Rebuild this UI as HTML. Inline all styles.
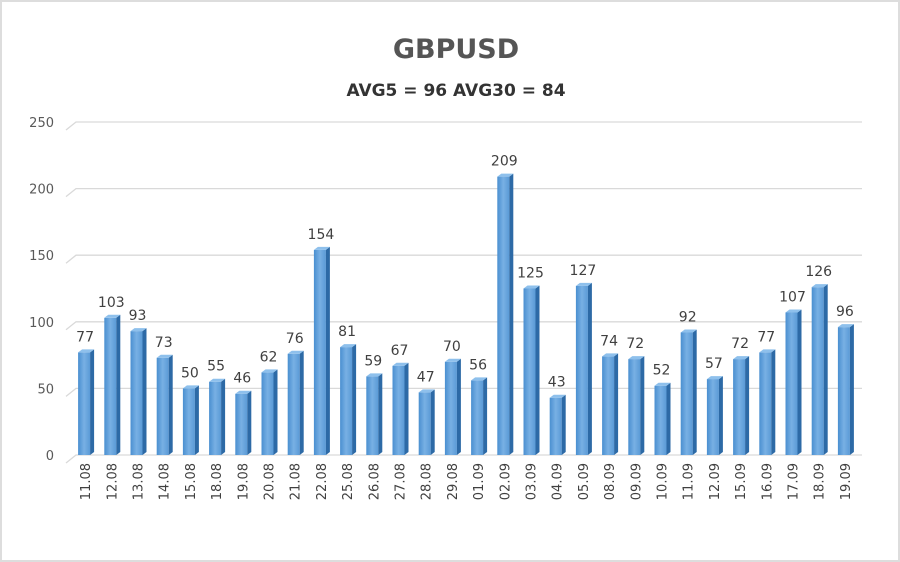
<!DOCTYPE html>
<html><head><meta charset="utf-8"><style>
html,body{margin:0;padding:0;background:#fff}
#wrap{width:896px;height:558px;border:2px solid #ddd;position:relative}
svg{position:absolute;left:-2px;top:-2px}
text{font-family:"DejaVu Sans","Liberation Sans",sans-serif}
</style></head><body>
<div id="wrap">
<svg id="c" width="900" height="562">
<text x="456" y="58" text-anchor="middle" font-size="27" font-weight="bold" fill="#555">GBPUSD</text>
<text x="456" y="96" text-anchor="middle" font-size="17" font-weight="bold" fill="#333">AVG5 = 96 AVG30 = 84</text>
<g id="grid"></g><g id="bars"></g><g id="labels"></g>
</svg></div>
<script>
const categories=["11.08","12.08","13.08","14.08","15.08","18.08","19.08","20.08","21.08","22.08","25.08","26.08","27.08","28.08","29.08","01.09","02.09","03.09","04.09","05.09","08.09","09.09","10.09","11.09","12.09","15.09","16.09","17.09","18.09","19.09"];
const values=[77,103,93,73,50,55,46,62,76,154,81,59,67,47,70,56,209,125,43,127,74,72,52,92,57,72,77,107,126,96];
const ticks=[0,50,100,150,200,250];
const NS="http://www.w3.org/2000/svg";
const y0=455,ymax=250,ypx=333;
const y=v=>y0-v/ymax*ypx;
const x0=72,step=26.2;
const x=i=>x0+step*(i+0.5);
function mk(t,a,p){const e=document.createElementNS(NS,t);for(const k in a)e.setAttribute(k,a[k]);p.appendChild(e);return e;}
const g=document.getElementById('grid'),b=document.getElementById('bars'),l=document.getElementById('labels');
ticks.forEach(t=>{
 const ln=mk('polyline',{points:`66,${y(t)+8} 76,${y(t)} 862,${y(t)}`,fill:'none',stroke:'#d9d9d9','stroke-width':1.3},g);
 
 
 const tx=mk('text',{x:54,y:y(t)+5,'text-anchor':'end','font-size':13,fill:'#595959'},g);
 tx.textContent=t;
 
 
});
const defs=mk('defs',{},b);
const gr=mk('linearGradient',{id:'gf',x1:0,x2:1,y1:0,y2:0},defs);
mk('stop',{offset:0,'stop-color':'#4a8fd0'},gr);mk('stop',{offset:0.5,'stop-color':'#78b0e4'},gr);mk('stop',{offset:1,'stop-color':'#5a9ad6'},gr);
values.forEach((v,i)=>{
 const cx=x(i),w=12,d=4,top=y(v),L=cx-w/2-1;
 const grp=mk('g',{},b);
 
 
 mk('rect',{x:L,y:top,width:w,height:y0-top,fill:'url(#gf)'},grp);
 mk('polygon',{points:`${L+w},${top} ${L+w+d},${top-3} ${L+w+d},${y0-3} ${L+w},${y0}`,fill:'#2d6aa6'},grp);
 mk('polygon',{points:`${L},${top} ${L+d},${top-3} ${L+w+d},${top-3} ${L+w},${top}`,fill:'#8ec0ec'},grp);
 const vt=mk('text',{x:cx,y:top-11,'text-anchor':'middle','font-size':14,fill:'#404040'},l);
 vt.textContent=v;
 
 
 const ct=mk('text',{transform:`translate(${cx+5},463) rotate(-90)`,'text-anchor':'end','font-size':13,fill:'#404040'},l);
 ct.textContent=categories[i];
 
 
});
</script>
</body></html>
